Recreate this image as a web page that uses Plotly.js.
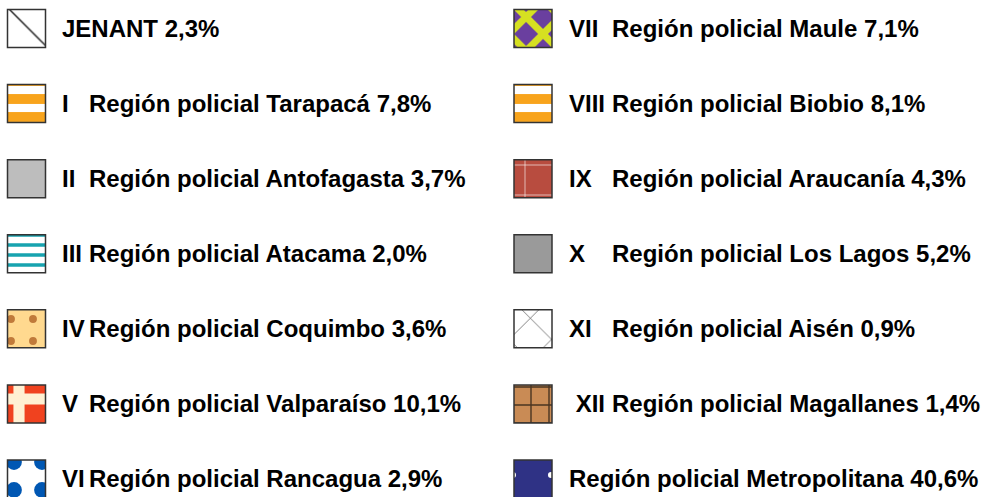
<!DOCTYPE html>
<html>
<head>
<meta charset="utf-8">
<script src="https://cdn.plot.ly/plotly-3.0.1.min.js"></script>
<style>html,body{margin:0;padding:0;background:#fff;}#chart{width:983px;height:497px;}</style>
</head>
<body>
<div id="chart"></div>
<script>
// ---- data ----
const numerals = ["", "I", "II", "III", "IV", "V", "VI", "VII", "VIII", "IX", "X", "XI", "\u00a0XII", ""];
const regions = ["JENANT", "Región policial Tarapacá", "Región policial Antofagasta", "Región policial Atacama",
  "Región policial Coquimbo", "Región policial Valparaíso", "Región policial Rancagua",
  "Región policial Maule", "Región policial Biobio", "Región policial Araucanía", "Región policial Los Lagos",
  "Región policial Aisén", "Región policial Magallanes", "Región policial Metropolitana"];
const shares = [2.3, 7.8, 3.7, 2.0, 3.6, 10.1, 2.9, 7.1, 8.1, 4.3, 5.2, 0.9, 1.4, 40.6];

// ---- styles ----
const baseColors = ["#ffffff", "#ffffff", "#bdbdbd", "#ffffff", "#ffd98f", "#f0421f", "#ffffff",
  "#6a3f9f", "#ffffff", "#b84c3f", "#9a9a9a", "#ffffff", "#c98b55", "#2f3285"];
const patShape = ["\\", "-", "", "-", ".", "+", ".", "x", "-", "+", "", "x", "+", "."];
const patFg = ["#222222", "#f8a41c", "#bdbdbd", "#17a3af", "#c07a3a", "#fff0d2", "#0057b3",
  "#d6e021", "#f8a41c", "#ffffff", "#9a9a9a", "#333333", "#4a3420", "#ffffff"];
const patSize = [30, 18, 8, 10, 22, 38, 28, 24, 18, 30, 8, 30, 18, 38];
const patSolid = [0.05, 0.55, 0.3, 0.35, 0.1, 0.5, 0.25, 0.5, 0.55, 0.04, 0.3, 0.04, 0.15, 0.02];

const perCol = 7;
const colPx = 506.5, rowPx = 75.08, boxPx = 38;
const x0Px = 26.5, y0Px = 28.5, W = 983, H = 497;
const numShift = [33.5, 34];
const nameShift = [60.5, 77];

const cols = shares.map((_, i) => Math.floor(i / perCol));
const rows = shares.map((_, i) => i % perCol);
const hData = boxPx / rowPx;

const traces = shares.map((v, i) => {
  const marker = {
    color: baseColors[i],
    line: {color: "#333333", width: 1.5}
  };
  if (patShape[i]) {
    marker.pattern = {
      shape: patShape[i],
      fgcolor: patFg[i],
      bgcolor: baseColors[i],
      size: patSize[i],
      solidity: patSolid[i],
      fillmode: "replace"
    };
  }
  return {
    type: "bar",
    name: regions[i],
    x: [cols[i]],
    y: [hData],
    base: [rows[i] - hData / 2],
    width: [boxPx / colPx],
    marker,
    hoverinfo: "skip",
    showlegend: false
  };
});

const fmt = v => v.toFixed(1).replace(".", ",") + "%";
const annotations = [];
shares.forEach((v, i) => {
  const c = cols[i], r = rows[i];
  const font = {family: "Arial, Liberation Sans, sans-serif", size: 24, color: "#000"};
  if (numerals[i]) {
    annotations.push({x: c, y: r, xref: "x", yref: "y", xanchor: "left", yanchor: "middle",
      xshift: numShift[c], showarrow: false, text: "<b>" + numerals[i] + "</b>", font});
    annotations.push({x: c, y: r, xref: "x", yref: "y", xanchor: "left", yanchor: "middle",
      xshift: nameShift[c], showarrow: false, text: "<b>" + regions[i] + " " + fmt(v) + "</b>", font});
  } else {
    annotations.push({x: c, y: r, xref: "x", yref: "y", xanchor: "left", yanchor: "middle",
      xshift: numShift[c], showarrow: false, text: "<b>" + regions[i] + " " + fmt(v) + "</b>", font});
  }
});

const layout = {
  width: W, height: H,
  margin: {l: 0, r: 0, t: 0, b: 0, pad: 0},
  paper_bgcolor: "#ffffff", plot_bgcolor: "#ffffff",
  barmode: "overlay",
  xaxis: {range: [-x0Px / colPx, (W - x0Px) / colPx], visible: false, fixedrange: true},
  yaxis: {range: [(H - y0Px) / rowPx, -y0Px / rowPx], visible: false, fixedrange: true},
  annotations,
  showlegend: false
};

Plotly.newPlot("chart", traces, layout, {displayModeBar: false, staticPlot: true});
</script>
</body>
</html>
